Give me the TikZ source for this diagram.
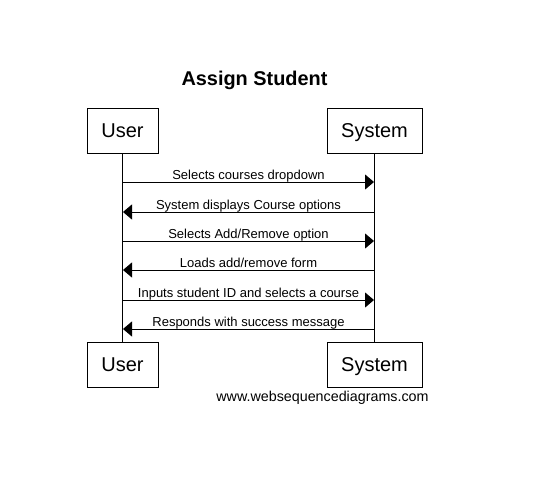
\documentclass[tikz,border=0pt]{standalone}
\usepackage{fontspec}
\setmainfont{Liberation Sans}
\usetikzlibrary{arrows.meta,calc}
\tikzstyle{line} = [draw, line width=1pt, -{Triangle[length=9pt,width=15pt]}]
\tikzstyle{actor} = [draw, line width=1pt, rectangle, text centered, inner sep=0pt, minimum height=45pt, text height=14.3pt, text depth=0pt, font=\fontsize{20}{24}\selectfont]
\tikzstyle{msg} = [anchor=base, yshift=3pt, inner sep=0pt, font=\fontsize{13}{15}\selectfont]

\begin{document}
\begin{tikzpicture}[x=1pt, y=1pt]
        \fill[white] (0,0) rectangle (543,-487);
        \useasboundingbox (0,0) rectangle (543,-487);
        \node[anchor=base, inner sep=0pt, font=\bfseries\fontsize{19.9}{24}\selectfont] (title) at (254.5,-85) {Assign Student};
        \node[actor, minimum width=71pt] (user) at (122.5,-130.5) {User};
        \node[actor, minimum width=95pt] (system) at (374.5,-130.5) {System};
        \node[actor, minimum width=71pt] (userb) at (122.5,-364.5) {User};
        \node[actor, minimum width=95pt] (systemb) at (374.5,-364.5) {System};
        \draw[line width=1pt] (user) -- (userb);
        \draw[line width=1pt] (system) -- (systemb);
        % message points on the lifelines
        \coordinate (u1) at (123,-182); \coordinate (s1) at (374,-182);
        \coordinate (u2) at (123,-212); \coordinate (s2) at (374,-212);
        \coordinate (u3) at (123,-241); \coordinate (s3) at (374,-241);
        \coordinate (u4) at (123,-270); \coordinate (s4) at (374,-270);
        \coordinate (u5) at (123,-300); \coordinate (s5) at (374,-300);
        \coordinate (u6) at (123,-329); \coordinate (s6) at (374,-329);
        \path[line] (u1) -- node[msg] {Selects courses dropdown} (s1);
        \path[line] (s2) -- node[msg] {System displays Course options} (u2);
        \path[line] (u3) -- node[msg] {Selects Add/Remove option} (s3);
        \path[line] (s4) -- node[msg] {Loads add/remove form} (u4);
        \path[line] (u5) -- node[msg] {Inputs student ID and selects a course} (s5);
        \path[line] (s6) -- node[msg] {Responds with success message} (u6);
        \node[anchor=base, inner sep=0pt, font=\fontsize{14.3}{17}\selectfont] (site) at (322.5,-401) {www.websequencediagrams.com};
    \end{tikzpicture}
\end{document}
